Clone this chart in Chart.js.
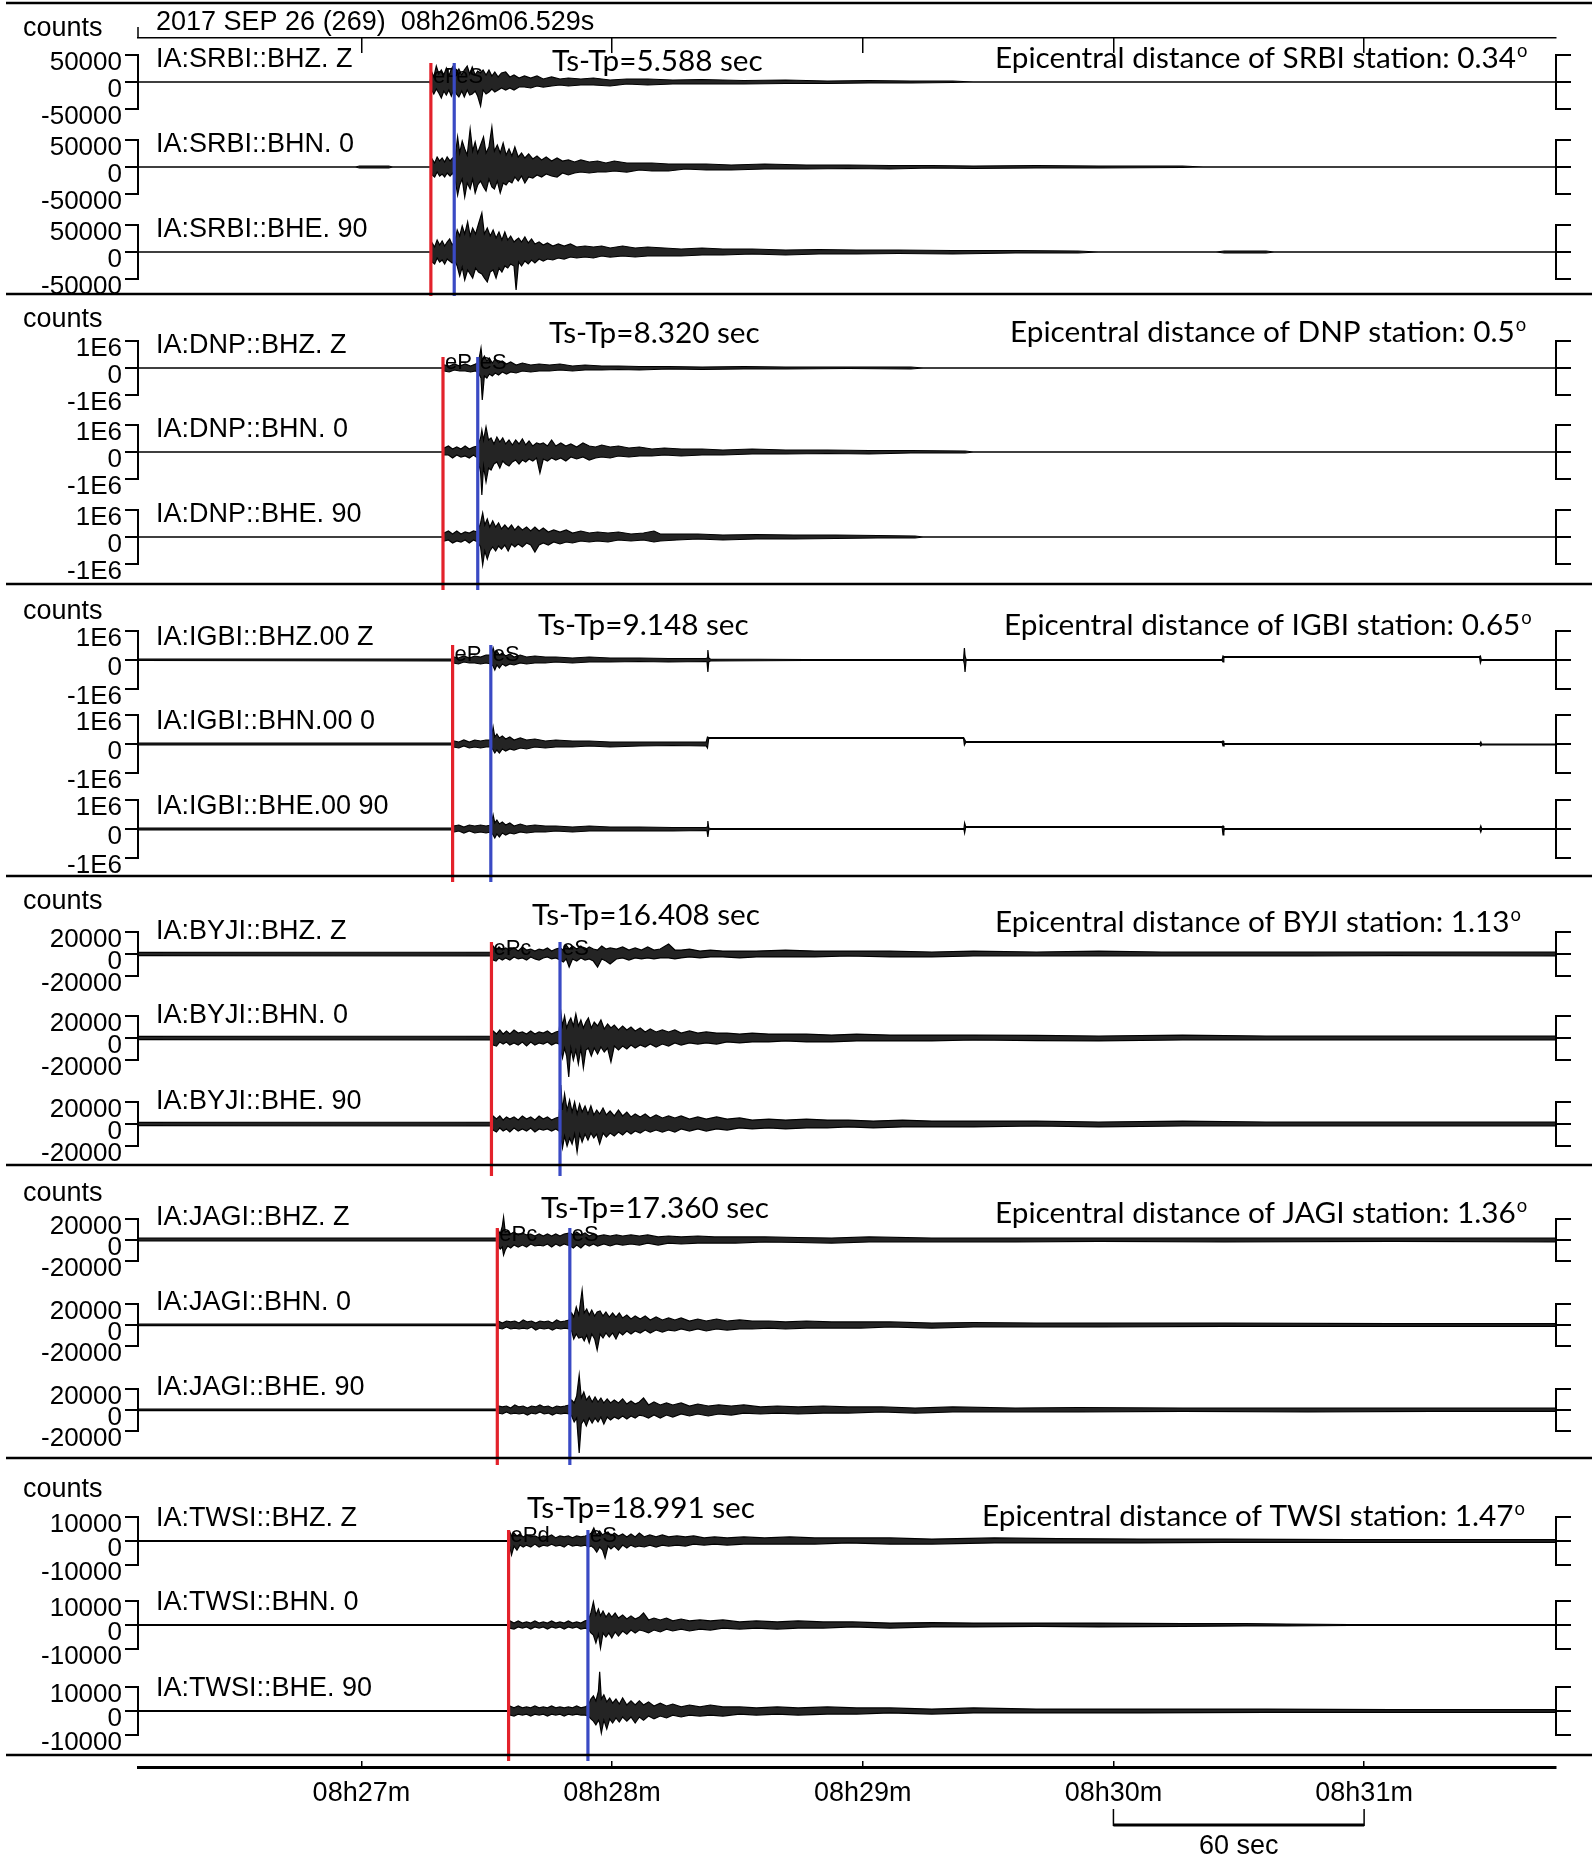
<!DOCTYPE html>
<html>
<head>
<meta charset="utf-8">
<script src="https://cdn.jsdelivr.net/npm/chart.js@4.4.1/dist/chart.umd.min.js"></script>
<style>
  html, body { margin: 0; padding: 0; background: #fff; }
  #wrap { width: 1592px; height: 1865px; position: relative; }
</style>
</head>
<body>
<div id="wrap"><canvas id="seis"></canvas></div>
<script>
// ---- data (time in s after 08h26m06.529s, amplitudes in counts) ----
const startLabel = '2017 SEP 26 (269)  08h26m06.529s';
const startSec = 6.529;
const stations = ['SRBI', 'DNP', 'IGBI', 'BYJI', 'JAGI', 'TWSI'];
const locCodes = ['', '', '00', '', '', ''];
const components = [['BHZ', 'Z'], ['BHN', '0'], ['BHE', '90']];
const tickRange = [50000, 1e6, 1e6, 20000, 20000, 10000];
const distances = [0.34, 0.5, 0.65, 1.13, 1.36, 1.47];
const tsTp = [5.588, 8.320, 9.148, 16.408, 17.360, 18.991];
const pTimes = [70.1, 73.0, 75.3, 84.6, 86.0, 88.7];
const pPhase = ['eP', 'eP', 'eP', 'ePc', 'ePc', 'ePd'];
const minuteMarks = [27, 28, 29, 30, 31];
const minuteLabels = ['08h27m', '08h28m', '08h29m', '08h30m', '08h31m'];

// envelopes: [time, upper, lower]
const srbiZ = [[0,0,0],[69.9,0,0],[70.3,18500,-14800],[70.8,9300,-22200],[71.4,29600,-13000],[72,14800,-20400],[72.6,22200,-29600],[73.2,13000,-16700],[73.8,25900,-24100],[74.4,11100,-14800],[75,24100,-25900],[75.6,31500,-13000],[76.2,16700,-22200],[76.8,24100,-27800],[77.5,13000,-16700],[78.1,22200,-27800],[78.8,29600,-14800],[79.4,14800,-24100],[80,27800,-22200],[80.7,13000,-16700],[81.3,20400,-25900],[82,16700,-44400],[82.6,22200,-14800],[83.3,13000,-22200],[84,22200,-18500],[84.7,11100,-13000],[85.4,18500,-18500],[86.2,9300,-14800],[87,16700,-11100],[88,18500,-14800],[89,9300,-11100],[90,13000,-14800],[91.2,7400,-9300],[92.5,11100,-9300],[94,7400,-11100],[95.5,11100,-7400],[97,5600,-9300],[99,9300,-7400],[101,5600,-5600],[103,7400,-7400],[106,5600,-5600],[109,7400,-5600],[113,3700,-7400],[117,5600,-3700],[122,5600,-5600],[128,3700,-3700],[135,4600,-3700],[145,2800,-3700],[155,3700,-2800],[165,1850,-2800],[175,2800,-1850],[185,1850,-1850],[195,1850,-900],[200,0,0],[339.4,0,0]];
const srbiN = [[0,0,0],[52,0,0],[53,1850,-1850],[60,1850,-1850],[61,0,0],[70,0,0],[70.4,14800,-14800],[71,7400,-18500],[71.6,18500,-9300],[72.2,11100,-16700],[72.8,16700,-13000],[73.4,9300,-18500],[74,18500,-11100],[74.7,11100,-16700],[75.3,16700,-11100],[75.9,18500,-22200],[76.5,55600,-51900],[77,25900,-33300],[77.6,48100,-22200],[78.2,33300,-55600],[78.8,22200,-29600],[79.5,70400,-40700],[80.1,29600,-22200],[80.7,46300,-48100],[81.3,25900,-33300],[82,40700,-25900],[82.7,55600,-37000],[83.3,25900,-44400],[84,37000,-22200],[84.7,74100,-37000],[85.3,29600,-40700],[86,40700,-25900],[86.7,25900,-48100],[87.4,44400,-29600],[88.1,22200,-33300],[88.8,33300,-25900],[89.5,20400,-29600],[90.2,37000,-18500],[91,18500,-25900],[91.8,25900,-16700],[92.6,16700,-29600],[93.5,24100,-18500],[94.5,14800,-20400],[95.5,20400,-14800],[96.6,13000,-18500],[97.7,18500,-13000],[99,11100,-16700],[100.3,16700,-18500],[101.6,11100,-11100],[103,13000,-14800],[104.5,9300,-11100],[106,13000,-9300],[108,9300,-11100],[110,11100,-9300],[112,7400,-9300],[114,11100,-7400],[117,7400,-9300],[120,7400,-5600],[123,7400,-7400],[127,5600,-7400],[131,5600,-3700],[136,5600,-5600],[142,3700,-5600],[150,5600,-3700],[160,3700,-3700],[170,3700,-2800],[180,2800,-3700],[190,2800,-1850],[200,1850,-2800],[215,2800,-1850],[230,1850,-1850],[250,1850,-900],[255,0,0],[339.4,0,0]];
const srbiE = [[0,0,0],[70,0,0],[70.4,16700,-18500],[71,9300,-22200],[71.6,22200,-11100],[72.2,13000,-18500],[72.8,20400,-14800],[73.4,11100,-22200],[74,18500,-13000],[74.6,24100,-16700],[75.2,13000,-20400],[75.8,18500,-16700],[76.4,40700,-25900],[77,29600,-44400],[77.6,48100,-27800],[78.2,33300,-51900],[78.9,55600,-33300],[79.5,29600,-40700],[80.1,44400,-48100],[80.8,33300,-29600],[81.5,51900,-37000],[82.3,72200,-40700],[82.9,33300,-48100],[83.6,44400,-55600],[84.3,29600,-37000],[85,40700,-33300],[85.7,25900,-48100],[86.4,37000,-29600],[87.1,22200,-37000],[87.8,37000,-25900],[88.5,22200,-29600],[89.2,29600,-22200],[90,18500,-25900],[90.5,22200,-70400],[91.1,25900,-18500],[91.8,18500,-25900],[92.6,27800,-16700],[93.4,16700,-22200],[94.2,24100,-14800],[95,14800,-20400],[96,18500,-13000],[97,13000,-16700],[98,16700,-13000],[99.3,11100,-14800],[100.6,14800,-11100],[102,11100,-13000],[103.5,14800,-9300],[105,9300,-11100],[107,11100,-9300],[109,9300,-11100],[111,11100,-7400],[113,7400,-9300],[116,11100,-7400],[119,7400,-9300],[122,9300,-7400],[126,7400,-7400],[130,5600,-7400],[135,7400,-5600],[140,5600,-5600],[147,5600,-3700],[155,3700,-5600],[163,4600,-3700],[172,3700,-3700],[182,3700,-2800],[195,2800,-3700],[210,2800,-1850],[225,1850,-1850],[230,0,0],[258,0,0],[260,1850,-1850],[270,1850,-1850],[272,0,0],[339.4,0,0]];

const dnpZ = [[0,0,0],[72.8,0,0],[73.3,111000,-111000],[74.5,74000,-148000],[75.7,148000,-74000],[77,74000,-111000],[78.3,148000,-111000],[79.6,74000,-148000],[80.8,148000,-111000],[81.5,222000,-185000],[82.1,741000,-370000],[82.4,296000,-1185000],[82.9,444000,-296000],[83.5,259000,-370000],[84.1,370000,-222000],[84.8,185000,-296000],[85.5,333000,-185000],[86.3,185000,-259000],[87.2,259000,-148000],[88.2,148000,-222000],[89.2,222000,-148000],[90.5,111000,-185000],[92,185000,-111000],[94,111000,-148000],[96,148000,-111000],[98.5,111000,-111000],[101,148000,-74000],[104,74000,-111000],[107,111000,-74000],[111,74000,-74000],[115,74000,-56000],[120,56000,-74000],[127,56000,-37000],[135,37000,-56000],[145,56000,-37000],[155,37000,-37000],[170,37000,-19000],[185,37000,-37000],[188,0,0],[339.4,0,0]];
const dnpN = [[0,0,0],[72.8,0,0],[73.3,148000,-111000],[74.3,222000,-111000],[75.3,111000,-222000],[76.3,185000,-111000],[77.3,111000,-185000],[78.3,222000,-148000],[79.3,111000,-222000],[80.3,185000,-111000],[81.3,222000,-222000],[82,519000,-741000],[82.3,815000,-1593000],[82.7,444000,-519000],[83.3,926000,-1111000],[83.9,444000,-593000],[84.5,519000,-667000],[85.2,296000,-444000],[85.9,556000,-370000],[86.6,370000,-593000],[87.3,519000,-333000],[88,296000,-444000],[88.8,444000,-519000],[89.6,259000,-370000],[90.4,444000,-296000],[91.2,296000,-444000],[92,481000,-296000],[92.8,259000,-370000],[93.6,407000,-259000],[94.5,222000,-333000],[95.4,333000,-222000],[96.2,296000,-778000],[97,333000,-259000],[98,222000,-333000],[99,444000,-222000],[100,222000,-296000],[101.2,333000,-222000],[102.4,222000,-333000],[103.6,296000,-185000],[105,185000,-259000],[106.5,333000,-185000],[108,222000,-296000],[109.5,185000,-222000],[111,259000,-185000],[113,185000,-222000],[115,222000,-148000],[117.5,148000,-185000],[120,185000,-148000],[123,111000,-148000],[126,148000,-111000],[130,111000,-148000],[135,111000,-111000],[140,74000,-111000],[147,111000,-74000],[155,74000,-74000],[165,74000,-56000],[175,56000,-74000],[185,56000,-37000],[198,37000,-37000],[200,0,0],[339.4,0,0]];
const dnpE = [[0,0,0],[72.8,0,0],[73.3,148000,-148000],[74.3,222000,-111000],[75.3,111000,-222000],[76.3,222000,-148000],[77.3,111000,-185000],[78.3,185000,-111000],[79.3,148000,-222000],[80.3,222000,-111000],[81.3,185000,-185000],[82,519000,-370000],[82.5,889000,-1037000],[83,444000,-519000],[83.6,667000,-815000],[84.2,370000,-519000],[84.9,593000,-370000],[85.6,370000,-519000],[86.3,519000,-333000],[87,296000,-444000],[87.8,444000,-296000],[88.6,296000,-519000],[89.4,444000,-259000],[90.2,259000,-370000],[91,407000,-259000],[92,259000,-370000],[93,370000,-222000],[94,222000,-296000],[95,370000,-556000],[96,222000,-296000],[97,333000,-222000],[98.2,185000,-296000],[99.5,259000,-185000],[101,185000,-259000],[102.5,259000,-185000],[104,148000,-222000],[106,222000,-148000],[108,148000,-185000],[110,185000,-148000],[112.5,148000,-185000],[115,185000,-111000],[118,111000,-148000],[121,148000,-111000],[123.5,222000,-185000],[125,111000,-148000],[129,111000,-111000],[134,111000,-74000],[140,74000,-111000],[148,93000,-74000],[157,74000,-74000],[167,74000,-56000],[177,56000,-37000],[186,37000,-37000],[188,0,0],[339.4,0,0]];

const igbiZ = [[0,34000,-17000],[75,34000,-34000],[75.5,103000,-103000],[76.7,69000,-138000],[78,138000,-69000],[79.3,69000,-103000],[80.6,138000,-103000],[82,103000,-138000],[83.3,172000,-103000],[84.5,172000,-138000],[85,414000,-207000],[85.4,207000,-345000],[85.9,310000,-172000],[86.5,172000,-276000],[87.2,241000,-138000],[88,138000,-207000],[89,207000,-138000],[90,103000,-172000],[91.5,172000,-103000],[93,103000,-138000],[95,138000,-103000],[97.5,103000,-103000],[100,103000,-69000],[104,69000,-103000],[108,103000,-69000],[113,69000,-69000],[120,69000,-52000],[127,52000,-69000],[135.9,52000,-52000],[136.2,69000,-69000],[136.4,345000,-414000],[136.6,69000,-69000],[137,34000,-34000],[160,17000,-17000],[197.6,17000,-17000],[197.8,414000,-138000],[197.95,138000,-414000],[198.2,17000,-17000],[259.5,17000,-17000],[259.7,138000,-69000],[259.9,121000,86000],[321.1,121000,86000],[321.3,138000,-103000],[321.5,17000,-17000],[339.4,17000,-17000]];
const igbiN = [[0,34000,-34000],[75,34000,-34000],[75.5,103000,-103000],[76.8,69000,-138000],[78,138000,-69000],[79.3,69000,-138000],[80.6,138000,-103000],[82,103000,-138000],[83.3,138000,-103000],[84.5,138000,-103000],[85,586000,-207000],[85.4,241000,-310000],[85.9,345000,-207000],[86.5,207000,-310000],[87.2,276000,-172000],[88,172000,-241000],[89,241000,-172000],[90,138000,-207000],[91.5,207000,-138000],[93,138000,-172000],[95,172000,-103000],[97.5,103000,-138000],[100,138000,-103000],[104,103000,-103000],[108,103000,-69000],[113,69000,-103000],[120,69000,-69000],[128,69000,-52000],[136,69000,-69000],[136.3,241000,-138000],[136.6,224000,190000],[197.6,224000,190000],[197.8,172000,-34000],[198.1,86000,52000],[259.5,86000,52000],[259.7,103000,-69000],[259.9,17000,-17000],[321.2,17000,-17000],[321.4,69000,-69000],[321.6,0,-34000],[339.4,0,-34000]];
const igbiE = [[0,34000,-34000],[75,34000,-34000],[75.5,103000,-103000],[76.8,138000,-69000],[78,69000,-138000],[79.3,138000,-69000],[80.6,103000,-138000],[82,138000,-103000],[83.3,103000,-138000],[84.5,138000,-103000],[85,483000,-207000],[85.4,207000,-310000],[85.9,310000,-172000],[86.5,172000,-276000],[87.2,241000,-138000],[88,138000,-207000],[89,207000,-138000],[90,103000,-172000],[91.5,172000,-103000],[93,103000,-138000],[95,138000,-103000],[97.5,103000,-103000],[100,103000,-69000],[104,69000,-103000],[108,103000,-69000],[113,69000,-69000],[120,69000,-69000],[128,52000,-69000],[136,52000,-52000],[136.2,69000,-69000],[136.4,276000,-276000],[136.6,34000,-34000],[137,17000,-17000],[197.7,17000,-17000],[197.85,207000,-138000],[198.1,86000,52000],[259.5,86000,52000],[259.7,103000,-207000],[259.9,17000,-17000],[321.2,17000,-17000],[321.4,103000,-103000],[321.6,17000,-17000],[339.4,17000,-17000]];

const byjiZ = [[0,1400,-1400],[84.5,1800,-1800],[85,7300,-5500],[85.7,3600,-6400],[86.4,6400,-3600],[87.2,3600,-5500],[88,5500,-3600],[89,3600,-5500],[90,5500,-2700],[91,2700,-4500],[92,6400,-3600],[93,3600,-5500],[94,4500,-2700],[95,2700,-4500],[96,4500,-5500],[97,3600,-3600],[98,5500,-2700],[99,2700,-4500],[100,4500,-3600],[101,5500,-5500],[101.8,3600,-7300],[102.5,8200,-4500],[103.2,4500,-11800],[104,7300,-4500],[105,4500,-6400],[106,7300,-3600],[107,3600,-5500],[108,6400,-4500],[109,4500,-6400],[110,3600,-11800],[111,7300,-4500],[112,4500,-6400],[113,5500,-9100],[114.5,4500,-4500],[116,6400,-3600],[117.5,3600,-5500],[119,5500,-3600],[120.5,3600,-4500],[122,6400,-3600],[123.5,3600,-4500],[125,4500,-3600],[127,9100,-3600],[128.5,3600,-4500],[130,3600,-3600],[132,4500,-2700],[134.5,2700,-3600],[137,3600,-2700],[140,2700,-2700],[144,2700,-3600],[148,2700,-2700],[155,3600,-2700],[162,2700,-2700],[170,2700,-1800],[180,2700,-2700],[190,1800,-2700],[200,2700,-1800],[215,1800,-1800],[230,2700,-1800],[245,1800,-1800],[260,1800,-1800],[280,1800,-1800],[300,1800,-1400],[339.4,1800,-1800]];
const byjiN = [[0,1400,-1400],[84.5,1800,-1800],[85,6400,-6400],[85.8,3600,-7300],[86.6,7300,-3600],[87.4,3600,-5500],[88.2,6400,-3600],[89,3600,-6400],[90,7300,-4500],[91,4500,-6400],[92,5500,-3600],[93,3600,-7300],[94,6400,-3600],[95,3600,-6400],[96,5500,-4500],[97,4500,-5500],[98,6400,-3600],[99,3600,-6400],[100,5500,-4500],[100.8,6400,-5500],[101.2,23600,-10900],[101.6,10900,-18200],[102.1,20000,-9100],[102.6,9100,-16400],[103.1,14500,-35500],[103.6,18200,-9100],[104.2,10900,-20000],[104.8,21800,-10900],[105.4,10900,-23600],[106,16400,-9100],[106.6,9100,-27300],[107.2,14500,-10900],[107.8,18200,-9100],[108.5,9100,-16400],[109.2,14500,-9100],[110,10900,-14500],[110.8,16400,-8200],[111.6,8200,-12700],[112.4,12700,-9100],[113.2,9100,-21800],[114,11800,-7300],[115,7300,-10900],[116,10900,-7300],[117,7300,-10000],[118,10000,-6400],[119,6400,-9100],[120.2,9100,-6400],[121.4,5500,-8200],[122.6,8200,-5500],[124,5500,-8200],[125.5,7300,-5500],[127,5500,-7300],[128.5,7300,-4500],[130,4500,-6400],[132,6400,-4500],[134,4500,-5500],[136,5500,-4500],[138.5,4500,-5500],[141,4500,-3600],[144,3600,-4500],[147,4500,-3600],[151,3600,-3600],[155,3600,-2700],[160,3600,-3600],[166,2700,-3600],[172,3600,-2700],[180,2700,-2700],[190,2700,-2700],[200,2700,-1800],[215,2300,-2300],[230,1800,-2700],[250,2700,-1800],[270,1800,-1800],[290,1800,-1800],[310,1800,-1800],[339.4,1800,-1800]];
const byjiE = [[0,1400,-1400],[84.5,1800,-1800],[85,7300,-5500],[85.8,4500,-7300],[86.6,7300,-3600],[87.4,3600,-6400],[88.2,6400,-4500],[89,4500,-7300],[90,6400,-3600],[91,3600,-6400],[92,7300,-4500],[93,4500,-6400],[94,6400,-3600],[95,3600,-7300],[96,7300,-4500],[97,4500,-5500],[98,6400,-4500],[99,3600,-6400],[100,5500,-4500],[100.8,6400,-6400],[101.2,35500,-10900],[101.6,12700,-21800],[102.1,27300,-10900],[102.7,12700,-20000],[103.3,21800,-12700],[103.9,10900,-18200],[104.5,20000,-9100],[105.1,9100,-25500],[105.7,18200,-9100],[106.3,10900,-16400],[107,16400,-9100],[107.7,9100,-14500],[108.4,16400,-8200],[109.1,8200,-12700],[109.8,12700,-9100],[110.5,9100,-18200],[111.3,14500,-8200],[112.1,8200,-11800],[113,11800,-8200],[114,7300,-10900],[115,12700,-7300],[116,7300,-10000],[117,10900,-6400],[118,6400,-9100],[119,9100,-6400],[120.2,6400,-8200],[121.4,9100,-5500],[122.6,5500,-7300],[124,8200,-5500],[125.5,5500,-7300],[127,7300,-5500],[128.5,5500,-7300],[130,7300,-4500],[132,4500,-6400],[134,6400,-4500],[136,4500,-6400],[138.5,6400,-4500],[141,4500,-5500],[144,5500,-3600],[147,3600,-4500],[151,4500,-3600],[155,3600,-4500],[160,4500,-3600],[165,3600,-3600],[170,3600,-2700],[176,2700,-3600],[183,3600,-2700],[190,2700,-2700],[200,2700,-2700],[215,2700,-1800],[230,1800,-2700],[250,2700,-1800],[270,1800,-1800],[290,1800,-1800],[339.4,1800,-1800]];

const jagiZ = [[0,1900,-950],[85.8,1900,-950],[86.2,9500,-5700],[86.7,5700,-8600],[87.2,13300,-6700],[87.5,21900,-14300],[87.9,7600,-9500],[88.5,8600,-5700],[89.2,5700,-7600],[90,7600,-4800],[91,4800,-6700],[92,6700,-4800],[93,4800,-6700],[94,5700,-3800],[95,3800,-5700],[96,5700,-4800],[97,3800,-5700],[98,5700,-3800],[99,3800,-6700],[100,5700,-3800],[101,3800,-5700],[102,5700,-3800],[103.4,6700,-5700],[104.2,4800,-7600],[105,7600,-4800],[106,4800,-7600],[107,6700,-3800],[108,3800,-5700],[109,5700,-3800],[110,3800,-5700],[111.5,4800,-3800],[113,3800,-5700],[114.5,4800,-3800],[116,3800,-4800],[118,4800,-3800],[120,3800,-4800],[122,4800,-2900],[124.5,2900,-4800],[127,3800,-2900],[130,2900,-3800],[134,3800,-2900],[138,2900,-2900],[143,2900,-2900],[150,2900,-1900],[158,2400,-2400],[166,1900,-2900],[175,2900,-1900],[190,1900,-1900],[210,1900,-1900],[230,1900,-1400],[260,1900,-1900],[300,1900,-1400],[339.4,1900,-1900]];
const jagiN = [[0,950,-500],[85.8,950,-500],[86.2,3800,-2900],[87.2,1900,-3800],[88.2,3800,-1900],[89.2,2900,-3800],[90.2,3800,-2900],[91.2,1900,-3800],[92.2,4800,-2900],[93.2,2900,-3800],[94.2,3800,-1900],[95.2,1900,-4800],[96.2,3800,-2900],[97.2,2900,-3800],[98.2,3800,-2900],[99.2,1900,-4800],[100.2,4800,-2900],[101.2,2900,-3800],[102.2,3800,-2900],[103.2,4800,-3800],[103.8,11400,-5700],[104.3,7600,-13300],[104.9,17100,-8600],[105.5,9500,-12400],[106.3,33300,-11400],[106.8,11400,-15200],[107.4,15200,-9500],[108,9500,-17100],[108.6,14300,-8600],[109.3,8600,-13300],[109.9,12400,-23800],[110.6,13300,-8600],[111.3,8600,-12400],[112,12400,-7600],[112.8,7600,-11400],[113.6,11400,-7600],[114.4,7600,-13300],[115.2,11400,-6700],[116,6700,-9500],[117,9500,-5700],[118,5700,-8600],[119,8600,-5700],[120.2,5700,-7600],[121.4,8600,-4800],[122.6,4800,-7600],[124,7600,-4800],[125.5,4800,-6700],[127,6700,-4800],[128.5,4800,-5700],[130,6700,-3800],[132,3800,-5700],[134,5700,-3800],[136,3800,-5700],[138.5,5700,-3800],[141,3800,-4800],[144,4800,-3800],[147,3800,-3800],[151,3800,-2900],[155,2900,-3800],[160,3800,-2900],[166,2900,-2900],[173,2900,-2900],[180,2900,-1900],[190,1900,-2900],[200,2400,-1900],[215,1900,-1900],[230,1900,-1900],[260,1900,-1400],[300,1400,-1400],[339.4,1400,-1400]];
const jagiE = [[0,950,-500],[85.8,950,-500],[86.2,3800,-2900],[87.2,2900,-3800],[88.2,3800,-1900],[89.2,1900,-3800],[90.2,4800,-2900],[91.2,2900,-3800],[92.2,3800,-2900],[93.2,1900,-4800],[94.2,3800,-2900],[95.2,2900,-3800],[96.2,4800,-1900],[97.2,2900,-3800],[98.2,3800,-2900],[99.2,1900,-4800],[100.2,3800,-2900],[101.2,2900,-3800],[102.2,3800,-2900],[103.2,4800,-3800],[103.8,9500,-5700],[104.4,6700,-11400],[105,13300,-7600],[105.6,33300,-41000],[106.1,11400,-13300],[106.7,17100,-9500],[107.3,9500,-15200],[108,13300,-7600],[108.7,7600,-12400],[109.4,12400,-7600],[110.1,7600,-11400],[110.8,11400,-6700],[111.5,6700,-13300],[112.3,10500,-6700],[113.1,6700,-9500],[114,9500,-6700],[115,6700,-8600],[116,10500,-5700],[117,5700,-8600],[118,8600,-5700],[119,5700,-7600],[120,7600,-4800],[121,11400,-5700],[122.2,4800,-7600],[123.5,7600,-4800],[125,4800,-7600],[126.5,6700,-4800],[128,4800,-6700],[130,6700,-3800],[132,3800,-5700],[134,5700,-3800],[136.5,3800,-5700],[139,4800,-3800],[142,3800,-4800],[145,4800,-2900],[149,2900,-3800],[153,3800,-2900],[158,2900,-3800],[164,3800,-2900],[170,2900,-2900],[178,2900,-1900],[186,1900,-2900],[195,2900,-1900],[210,1900,-1900],[225,2400,-1900],[250,1900,-1400],[280,1900,-1900],[310,1900,-1400],[339.4,1900,-1400]];

const twsiZ = [[0,200,-200],[88.5,200,-200],[89,3800,-2500],[89.4,2100,-5800],[90,3300,-2100],[90.7,2100,-3800],[91.4,2900,-1700],[92.2,1700,-2500],[93,2500,-1700],[94,1700,-2500],[95,2100,-1300],[96,1300,-2500],[97,2100,-1700],[98,1700,-2100],[99,2500,-1300],[100,1300,-2100],[101,2100,-1700],[102,1700,-2500],[103,2100,-1300],[104,1300,-2100],[105,2100,-1700],[106,1700,-2100],[107,2100,-1700],[107.8,2500,-2500],[108.5,3300,-2100],[109.1,5400,-2900],[109.8,2500,-4600],[110.5,4200,-2500],[111.2,2500,-3800],[111.8,3300,-7100],[112.5,3800,-2100],[113.2,2100,-3300],[114,3300,-2100],[115,2100,-3800],[116,2900,-1700],[117,1700,-2900],[118,2900,-1700],[119,1700,-2500],[120,3300,-2100],[121.2,1700,-2500],[122.5,2500,-1700],[124,1700,-2500],[125.5,2500,-1700],[127,1700,-2100],[129,2100,-1700],[131,1700,-2100],[133,2100,-1300],[135.5,1300,-1700],[138,1700,-1300],[141,1300,-1700],[145,1700,-1300],[150,1300,-1300],[156,1700,-1300],[162,1300,-1300],[170,1300,-800],[180,1300,-1300],[190,800,-1300],[205,1300,-800],[220,1000,-800],[240,800,-800],[260,800,-600],[290,600,-600],[339.4,600,-600]];
const twsiN = [[0,200,-200],[88.5,200,-200],[89,1700,-1300],[90,800,-1700],[91,1700,-800],[92,800,-1300],[93,1300,-800],[94,800,-1700],[95,1700,-800],[96,800,-1300],[97,1300,-800],[98,800,-1700],[99,1700,-800],[100,800,-1300],[101,1300,-800],[102,800,-1700],[103,1700,-800],[104,800,-1300],[105,1300,-800],[106,800,-1700],[107,1700,-1300],[107.8,2100,-1700],[108.4,5000,-3300],[109,9600,-4200],[109.6,4200,-7500],[110.2,6700,-3800],[110.7,3800,-9600],[111.3,5800,-3300],[112,3300,-5000],[112.7,5000,-3300],[113.4,3300,-5400],[114.2,5000,-2900],[115,2900,-4600],[116,4200,-2500],[117,2500,-3800],[118,3800,-2100],[119,2500,-3300],[120,3300,-2100],[121,5000,-2500],[122.2,2100,-3300],[123.5,2900,-2100],[125,2100,-2900],[126.5,2900,-1700],[128,1700,-2500],[130,2500,-1700],[132,1700,-2500],[134.5,2100,-1700],[137,1700,-2100],[140,2100,-1300],[144,1300,-1700],[148,1700,-1300],[153,1300,-1700],[158,1700,-1300],[164,1300,-1300],[171,1300,-800],[180,800,-1300],[190,1000,-800],[200,800,-800],[215,800,-600],[230,800,-800],[250,600,-600],[265,600,-400],[275,400,-400],[290,200,-200],[339.4,200,-200]];
const twsiE = [[0,200,-200],[88.5,200,-200],[89,2100,-1700],[90,1300,-2100],[91,2100,-1300],[92,1300,-1700],[93,1700,-1300],[94,1300,-2100],[95,2100,-1300],[96,1300,-1700],[97,1700,-1300],[98,1300,-2100],[99,2100,-1300],[100,1300,-1700],[101,1700,-1300],[102,1300,-2100],[103,1700,-1300],[104,1300,-1700],[105,2100,-1300],[106,1300,-1700],[107,1700,-1700],[107.8,2500,-2100],[108.4,5000,-3300],[109,6300,-4200],[109.6,4200,-5800],[110.2,8300,-3800],[110.5,16300,-5000],[110.9,5000,-9200],[111.5,6700,-3800],[112.2,3800,-7500],[112.9,5400,-3300],[113.6,3300,-5000],[114.4,5000,-2900],[115.2,2900,-4600],[116,5400,-2500],[117,2500,-4200],[118,4200,-2500],[119,2500,-5000],[120,4200,-2500],[121,2500,-3800],[122.2,3800,-2100],[123.5,2100,-3300],[125,3300,-2100],[126.5,2100,-2900],[128,2900,-1700],[130,1700,-2500],[132,2500,-1700],[134.5,1700,-2100],[137,2500,-1700],[140,1700,-2100],[144,1700,-1300],[148,1300,-1700],[153,1700,-1300],[158,1300,-1700],[165,1700,-1300],[172,1300,-1300],[180,1300,-800],[190,800,-1300],[200,1300,-800],[215,800,-800],[240,800,-800],[270,800,-600],[300,600,-600],[339.4,600,-600]];

const waves = [[srbiZ, srbiN, srbiE], [dnpZ, dnpN, dnpE], [igbiZ, igbiN, igbiE],
               [byjiZ, byjiN, byjiE], [jagiZ, jagiN, jagiE], [twsiZ, twsiN, twsiE]];

// ---- layout (page pixels) ----
const W = 1592, H = 1865;
const plotLeft = 138, plotRight = 1556, plotTop = 38, plotBottom = 1767;
const tMax = 339.4;
const sepLines = [3, 294, 584, 876, 1165, 1458, 1755];
const zeroY = [[82,167,252],[368,452,537],[660,744,829],[954,1038,1124],[1240,1325,1410],[1541,1625,1711]];
const halfPx = [27, 27, 29, 22, 21, 24];
const pickSpan = [[63,296],[357,590],[645,882],[942,1176],[1228,1465],[1530,1761]];
const countsY = [29, 320, 612, 902, 1194, 1490];
const tsPos = [[552,62],[549,334],[538,626],[532,916],[541,1209],[527,1509]];
const epiPos = [[995,58],[1010,332],[1004,625],[995,922],[995,1213],[982,1516]];
const armFont = '"Liberation Sans", Arial, sans-serif';
const calFont = 'Lato, "Open Sans", sans-serif';

const minuteTimes = minuteMarks.map(m => (m - 26) * 60 - startSec);

function fmtCounts(v) {
  if (Math.abs(v) >= 1e6) return (v < 0 ? '-' : '') + (Math.abs(v) / 1e6) + 'E6';
  return String(v);
}

const yTickValues = [];
const yTickText = new Map();
zeroY.forEach((zs, p) => zs.forEach(z => {
  [[z - halfPx[p], fmtCounts(tickRange[p])], [z, '0'], [z + halfPx[p], fmtCounts(-tickRange[p])]]
    .forEach(([v, s]) => { yTickValues.push(v); yTickText.set(v, s); });
}));

// ---- datasets ----
const datasets = [];
stations.forEach((st, p) => {
  const [y0, y1] = pickSpan[p];
  const tp = pTimes[p], ts = pTimes[p] + tsTp[p];
  datasets.push({ data: [{x: tp, y: y0}, {x: tp, y: y1}], borderColor: '#e3222b', borderWidth: 3.2, fill: false });
  datasets.push({ data: [{x: ts, y: y0}, {x: ts, y: y1}], borderColor: '#3a4ac4', borderWidth: 3.2, fill: false });
});
waves.forEach((comps, p) => comps.forEach((w, c) => {
  const z = zeroY[p][c];
  const k = halfPx[p] / tickRange[p];
  datasets.push({ data: w.map(r => ({x: r[0], y: z - r[1] * k})), borderColor: '#000', borderWidth: 1.2, fill: false });
  datasets.push({ data: w.map(r => ({x: r[0], y: z - r[2] * k})), borderColor: '#000', borderWidth: 1.2,
                  fill: '-1', backgroundColor: 'rgba(0,0,0,0.86)' });
}));

function seg(ctx, x1, y1, x2, y2) {
  ctx.beginPath(); ctx.moveTo(x1, y1); ctx.lineTo(x2, y2); ctx.stroke();
}

const decorations = {
  id: 'decorations',
  beforeDatasetsDraw(chart) {
    // phase names sit under the traces
    const ctx = chart.ctx, xs = chart.scales.x, ys = chart.scales.y;
    ctx.save();
    ctx.fillStyle = '#000';
    ctx.font = '22px ' + armFont;
    ctx.textBaseline = 'middle';
    stations.forEach((st, p) => {
      const y = ys.getPixelForValue(zeroY[p][0] - 5);
      ctx.fillText(pPhase[p], xs.getPixelForValue(pTimes[p]) + 2, y);
      ctx.fillText('eS', xs.getPixelForValue(pTimes[p] + tsTp[p]) + 2, y);
    });
    ctx.restore();
  },
  afterDraw(chart) {
    const ctx = chart.ctx, ca = chart.chartArea;
    const xs = chart.scales.x, ys = chart.scales.y;
    ctx.save();
    ctx.strokeStyle = '#000';
    ctx.fillStyle = '#000';

    ctx.lineWidth = 2.5;
    sepLines.forEach(y => seg(ctx, 6, y, W, y));

    ctx.lineWidth = 1.5;
    seg(ctx, ca.left, 27, ca.left, ca.top);

    ctx.textAlign = 'left';
    ctx.textBaseline = 'middle';
    ctx.font = '27px ' + armFont;
    ctx.fillText(startLabel, 156, 23);

    // font size for the annotation lines
    const epiText = p => 'Epicentral distance of ' + stations[p] + ' station: ' + distances[p];
    ctx.font = '100px ' + calFont;
    const calSize = 100 * 521 / ctx.measureText(epiText(0)).width;

    stations.forEach((st, p) => {
      ctx.textAlign = 'left';
      ctx.textBaseline = 'middle';
      ctx.font = '27px ' + armFont;
      ctx.fillText('counts', 23, countsY[p]);
      components.forEach((cmp, c) => {
        const name = 'IA:' + st + '::' + cmp[0] + '.' + locCodes[p] + ' ' + cmp[1];
        ctx.fillText(name, 156, ys.getPixelForValue(zeroY[p][c] - 22));
      });

      ctx.textBaseline = 'alphabetic';
      ctx.font = calSize.toFixed(2) + 'px ' + calFont;
      ctx.fillText('Ts-Tp=' + tsTp[p].toFixed(3) + ' sec', tsPos[p][0], tsPos[p][1] + 9);
      const et = epiText(p);
      ctx.fillText(et, epiPos[p][0], epiPos[p][1] + 10);
      const ew = ctx.measureText(et).width;
      ctx.font = (calSize * 0.62).toFixed(2) + 'px ' + calFont;
      ctx.fillText('o', epiPos[p][0] + ew + 1, epiPos[p][1] + 10 - calSize * 0.36);

      // vertical parts of the scale brackets
      ctx.lineWidth = 2;
      zeroY[p].forEach(z => {
        const yt = ys.getPixelForValue(z - halfPx[p]);
        const yb = ys.getPixelForValue(z + halfPx[p]);
        seg(ctx, ca.left, yt - 1, ca.left, yb + 1);
        seg(ctx, ca.right, yt - 1, ca.right, yb + 1);
      });
    });

    // 60 s scale bar
    const x1 = xs.getPixelForValue(minuteTimes[3]);
    const x2 = xs.getPixelForValue(minuteTimes[3] + 60);
    ctx.lineWidth = 1.5;
    seg(ctx, x1, 1809, x1, 1826);
    seg(ctx, x2, 1809, x2, 1826);
    ctx.lineWidth = 3;
    seg(ctx, x1, 1825, x2, 1825);
    ctx.font = '27px ' + armFont;
    ctx.textAlign = 'center';
    ctx.textBaseline = 'middle';
    ctx.fillText('60 sec', (x1 + x2) / 2, 1847);
    ctx.restore();
  }
};

const minuteTicks = s => { s.ticks = minuteTimes.map(v => ({value: v})); };
const yTicks = s => { s.ticks = yTickValues.map(v => ({value: v})); };

new Chart(document.getElementById('seis'), {
  type: 'line',
  data: { datasets },
  plugins: [decorations],
  options: {
    responsive: true,
    maintainAspectRatio: false,
    devicePixelRatio: 1,
    animation: false,
    events: [],
    layout: { padding: 0 },
    elements: { point: { radius: 0 }, line: { tension: 0 } },
    plugins: { legend: { display: false }, tooltip: { enabled: false } },
    scales: {
      x: {
        type: 'linear', position: 'bottom', min: 0, max: tMax,
        afterFit: s => { s.height = H - plotBottom; },
        afterBuildTicks: minuteTicks,
        ticks: {
          autoSkip: false, maxRotation: 0, padding: 16, color: '#000',
          font: { family: armFont, size: 27 },
          callback: (v, i) => minuteLabels[i]
        },
        grid: { drawOnChartArea: false, drawTicks: true, tickLength: -6, color: '#000', lineWidth: 1.5 },
        border: { display: true, color: '#000', width: 3 }
      },
      xT: {
        type: 'linear', position: 'top', min: 0, max: tMax,
        afterFit: s => { s.height = plotTop; },
        afterBuildTicks: minuteTicks,
        ticks: { display: false },
        grid: { drawOnChartArea: false, drawTicks: true, tickLength: -15, color: '#000', lineWidth: 1.5 },
        border: { display: true, color: '#000', width: 1.5 }
      },
      y: {
        type: 'linear', position: 'left', reverse: true, min: plotTop, max: plotBottom,
        afterFit: s => { s.width = plotLeft; },
        afterBuildTicks: yTicks,
        ticks: {
          autoSkip: false, padding: 3, labelOffset: 8, color: '#000',
          font: { family: armFont, size: 26 },
          callback: v => yTickText.get(v)
        },
        grid: { drawOnChartArea: false, drawTicks: true, tickLength: 13, color: '#000', lineWidth: 2 },
        border: { display: false }
      },
      yR: {
        type: 'linear', position: 'right', reverse: true, min: plotTop, max: plotBottom,
        afterFit: s => { s.width = W - plotRight; },
        afterBuildTicks: yTicks,
        ticks: { display: false },
        grid: { drawOnChartArea: false, drawTicks: true, tickLength: 15, color: '#000', lineWidth: 2 },
        border: { display: false }
      }
    }
  }
});
</script>
</body>
</html>
